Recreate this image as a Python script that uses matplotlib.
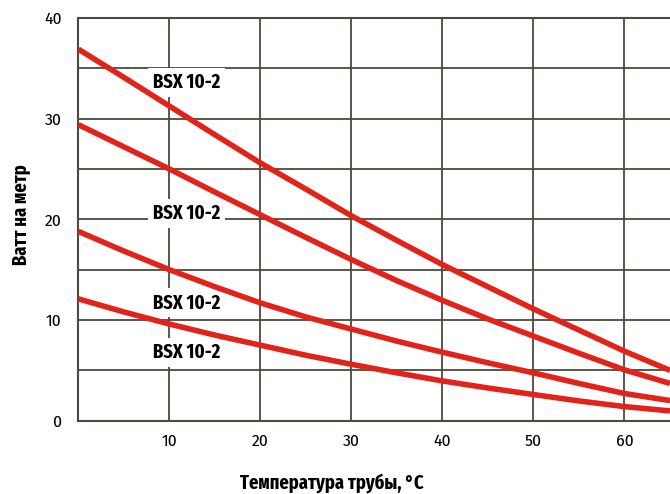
import numpy as np
import matplotlib.pyplot as plt

temps = [0, 5, 10, 15, 20, 25, 30, 35, 40, 45, 50, 55, 60, 65]
curve1 = [36.9, 34.1, 31.25, 28.4, 25.6, 23.0, 20.35, 17.9, 15.5, 13.3, 11.1, 9.0, 6.9, 5.0]
curve2 = [29.4, 27.2, 25.0, 22.7, 20.45, 18.2, 16.0, 13.9, 11.95, 10.1, 8.4, 6.7, 5.05, 3.7]
curve3 = [18.8, 16.85, 15.0, 13.3, 11.7, 10.3, 9.1, 7.9, 6.8, 5.75, 4.75, 3.7, 2.7, 2.0]
curve4 = [12.1, 10.8, 9.6, 8.5, 7.5, 6.5, 5.6, 4.75, 3.95, 3.25, 2.6, 1.96, 1.4, 0.97]
curves = [curve1, curve2, curve3, curve4]

label_text = 'BSX 10-2'
label_x = [11.9, 11.9, 11.9, 11.9]
label_y = [33.6, 20.6, 11.7, 6.8]

xticks = [10, 20, 30, 40, 50, 60]
yticks = [0, 10, 20, 30, 40]

plt.rcParams['font.family'] = ['Fira Sans Condensed', 'DejaVu Sans']
bold_fam = ['Fira Sans Extra Condensed', 'Fira Sans Condensed', 'DejaVu Sans']

grid_c = '#4b4a3c'
red = '#e2231a'

fig = plt.figure(figsize=(6.7, 4.94), dpi=100)
ax = fig.add_axes([0.117, 0.1484, 0.883, 0.8152])

for c in curves:
    ax.plot(temps, c, color=red, lw=4.0, solid_capstyle='butt', zorder=3)

ax.set_xlim(0, 65)
ax.set_ylim(0, 40)
ax.set_xticks(xticks)
ax.set_yticks(yticks)
ax.set_yticks(np.arange(0, 41, 5), minor=True)
ax.tick_params(length=0, labelsize=12.5, pad=9)
ax.tick_params(axis='y', pad=12)
ax.tick_params(which='minor', length=0)
ax.grid(True, which='both', axis='y', color=grid_c, lw=1.3)
ax.grid(True, which='major', axis='x', color=grid_c, lw=1.3)
ax.set_axisbelow(True)
for s in ['left', 'bottom', 'top']:
    ax.spines[s].set_color(grid_c)
    ax.spines[s].set_linewidth(1.5)
ax.spines['right'].set_visible(False)

for lx, ly in zip(label_x, label_y):
    ax.text(lx, ly, label_text, ha='center', va='center', fontsize=14.5,
            fontweight='bold', family=bold_fam, zorder=2.5,
            bbox=dict(facecolor='white', edgecolor='none', pad=3.5))

fig.text(0.032, 0.565, 'Ватт на метр', rotation=90, ha='center', va='center',
         fontsize=14.5, fontweight='bold', family=bold_fam)
fig.text(0.495, 0.022, 'Температура трубы, °C', ha='center', va='center',
         fontsize=14.5, fontweight='bold', family=bold_fam)

fig.savefig('out.png', dpi=100)
